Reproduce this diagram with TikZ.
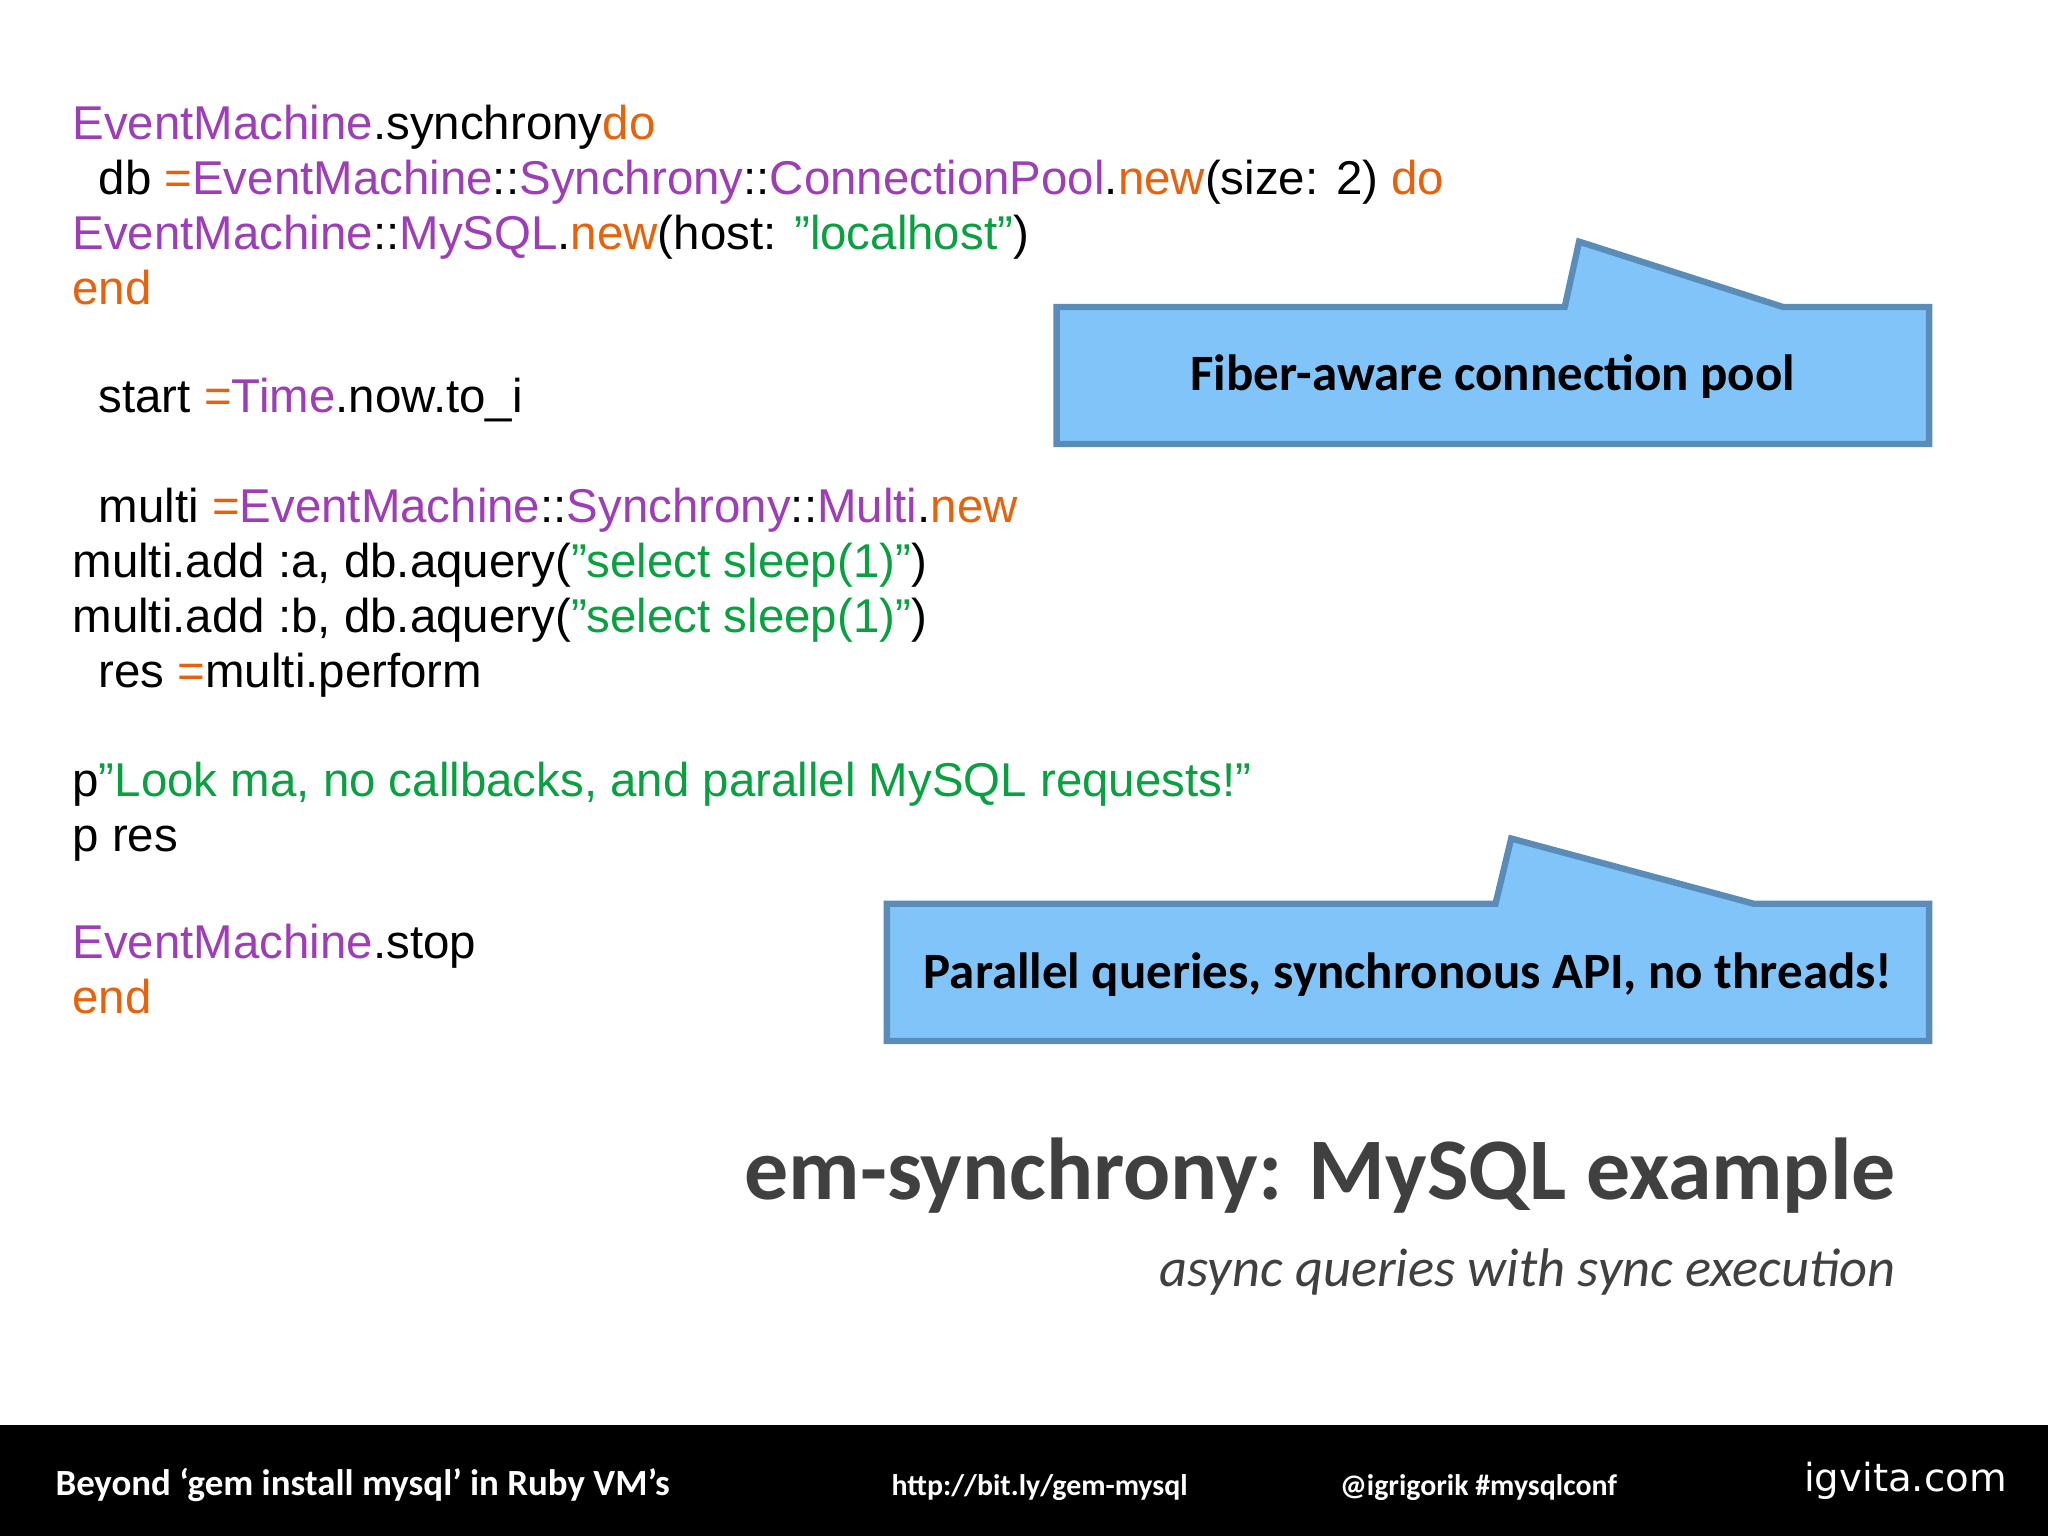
\documentclass[tikz,border=0pt]{standalone}
\usepackage{fontspec}
\setmainfont{Liberation Sans}
\newfontfamily\carl{Carlito}
\newfontfamily\dejav{DejaVu Sans}
\definecolor{kwpur}{HTML}{9E3DB8}
\definecolor{kworg}{HTML}{E8620C}
\definecolor{kwgrn}{HTML}{08A040}
\definecolor{boxfill}{HTML}{80C4FA}
\definecolor{boxline}{HTML}{5A8CB8}
\definecolor{titlegray}{HTML}{404040}
\newcommand{\pu}[1]{\textcolor{kwpur}{#1}}
\newcommand{\og}[1]{\textcolor{kworg}{#1}}
\newcommand{\gn}[1]{\textcolor{kwgrn}{#1}}
\begin{document}
\begin{tikzpicture}[x=0.013061cm,y=-0.013061cm,
  code/.style={anchor=base west,inner sep=0pt,font=\fontsize{13.5}{16}\selectfont},
  callout/.style={fill=boxfill,draw=boxline,line width=1.8pt},
  calltext/.style={anchor=base,inner sep=0pt,font=\carl\bfseries\fontsize{14.5}{17}\selectfont},
  foot/.style={anchor=base,inner sep=0pt,text=white}]
\useasboundingbox (0,0) rectangle (1568,1176);
\fill[white] (0,0) rectangle (1568,1176);

% code
\node[code] (l1) at (55,107) {\pu{EventMachine}.synchrony\og{do}};
\node[code] (l2) at (75,149) {db \og{=}\pu{EventMachine}::\pu{Synchrony}::\pu{ConnectionPool}.\og{new}(size: 2) \og{do}};
\node[code] (l3) at (55,191) {\pu{EventMachine}::\pu{MySQL}.\og{new}(host: \gn{"localhost"})};
\node[code] (l4) at (55,233) {\og{end}};
\node[code] (l5) at (75,316) {start \og{=}\pu{Time}.now.to\_i};
\node[code] (l6) at (75,400) {multi \og{=}\pu{EventMachine}::\pu{Synchrony}::\pu{Multi}.\og{new}};
\node[code] (l7) at (55,442) {multi.add :a, db.aquery(\gn{"select sleep(1)"})};
\node[code] (l8) at (55,484) {multi.add :b, db.aquery(\gn{"select sleep(1)"})};
\node[code] (l9) at (75,526) {res \og{=}multi.perform};
\node[code] (l10) at (55,610) {p\gn{"Look ma, no callbacks, and parallel MySQL requests!"}};
\node[code] (l11) at (55,652) {p res};
\node[code] (l12) at (55,734) {\pu{EventMachine}.stop};
\node[code] (l13) at (55,776) {\og{end}};

% callouts
\draw[callout] (809,235) -- (1198,235) -- (1209,185) -- (1365,235) -- (1477,235)
  -- (1477,340) -- (809,340) -- cycle;
\node[calltext] (c1) at (1143,299) {Fiber-aware connection pool};
\draw[callout] (679,692) -- (1145,692) -- (1157,642) -- (1343,692) -- (1477,692)
  -- (1477,797) -- (679,797) -- cycle;
\node[calltext] (c2) at (1078,757) {Parallel queries, synchronous API, no threads!};

% title
\node[anchor=base east,inner sep=0pt,text=titlegray,font=\carl\bfseries\fontsize{25}{30}\selectfont] (title) at (1452,918) {em-synchrony: MySQL example};
\node[anchor=base east,inner sep=0pt,text=titlegray,font=\carl\itshape\fontsize{15.5}{19}\selectfont] (sub) at (1452,985) {async queries with sync execution};

% footer
\fill[black] (0,1091) rectangle (1568,1176);
\node[foot,anchor=base west,font=\carl\bfseries\fontsize{10.5}{12}\selectfont] (f1) at (42,1145) {Beyond ‘gem install mysql’ in Ruby VM’s};
\node[foot,font=\carl\bfseries\fontsize{8.5}{10}\selectfont] (f2) at (796,1145) {http://bit.ly/gem-mysql};
\node[foot,font=\carl\bfseries\fontsize{8.5}{10}\selectfont] (f3) at (1132,1145) {@igrigorik \#mysqlconf};
\node[foot,anchor=base east,font=\dejav\fontsize{11}{13}\selectfont] (f4) at (1537,1142) {igvita.com};
\end{tikzpicture}
\end{document}
